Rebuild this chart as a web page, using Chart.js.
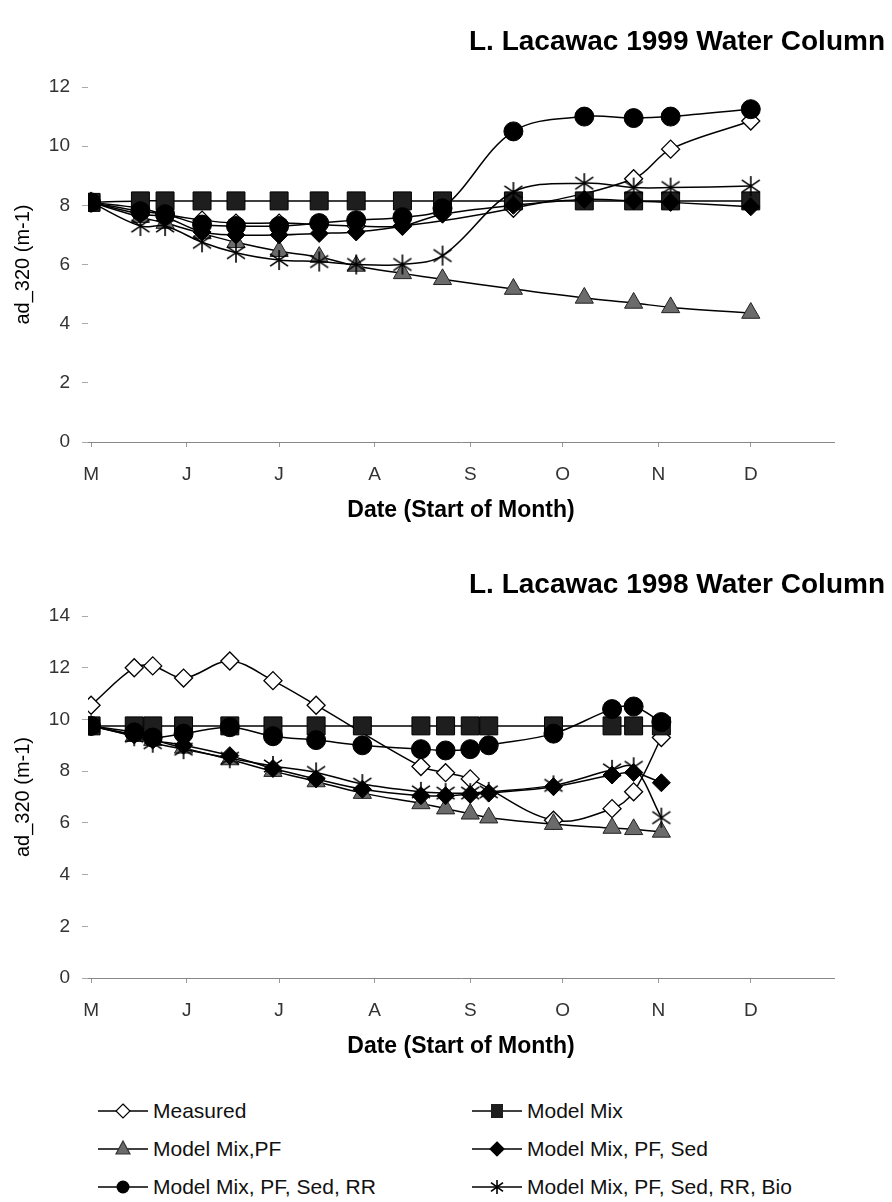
<!DOCTYPE html>
<html><head><meta charset="utf-8">
<script src="https://cdn.jsdelivr.net/npm/chart.js@4.4.1/dist/chart.umd.min.js"></script>
<style>
body{margin:0;background:#fff;width:892px;height:1202px;position:relative;overflow:hidden;font-family:"Liberation Sans",Arial,sans-serif;}
.wrap{position:absolute;left:0;width:892px;}
.item{position:absolute;display:flex;align-items:center;font-size:21px;color:#111;white-space:nowrap;height:30px;}
.item canvas{display:block;margin-right:5px;}
</style></head><body>
<div class="wrap" style="top:0;height:540px"><canvas id="c1" width="892" height="540"></canvas></div>
<div class="wrap" style="top:540px;height:535px"><canvas id="c2" width="892" height="535"></canvas></div>
<div id="legend"></div>
<script>
const FONT = '"Liberation Sans", Arial, sans-serif';
const seriesNames = ['Measured','Model Mix','Model Mix,PF','Model Mix, PF, Sed','Model Mix, PF, Sed, RR','Model Mix, PF, Sed, RR, Bio'];
const monthStarts = [0,31,61,92,123,153,184,214];
const monthLabels = ['M','J','J','A','S','O','N','D'];
const yTicks1999 = [0,2,4,6,8,10,12];
const yTicks1998 = [0,2,4,6,8,10,12,14];

// 1999 (days since 1 May)
const days1999     = [0, 16, 24, 36, 47, 61, 74, 86, 101, 114, 137, 160, 176, 188, 214];
const measured1999 = [8.1, 7.9, 7.7, 7.5, 7.4, 7.4, 7.35, 7.3, 7.3, null, 7.9, null, 8.9, 9.9, 10.85];
const mix1999      = [8.1, 8.15, 8.15, 8.15, 8.15, 8.15, 8.15, 8.15, 8.15, 8.15, 8.15, 8.15, 8.15, 8.15, 8.15];
const pf1999       = [8.1, 7.6, 7.4, 7.05, 6.75, 6.45, 6.25, 5.95, 5.7, 5.5, 5.17, 4.87, 4.7, 4.55, 4.36];
const sed1999      = [8.1, 7.7, 7.6, 7.1, 7.0, 7.0, 7.05, 7.1, 7.3, 7.7, 8.0, 8.2, 8.15, 8.1, 7.95];
const rr1999       = [8.1, 7.8, 7.7, 7.35, 7.3, 7.3, 7.4, 7.5, 7.6, 7.9, 10.5, 11.0, 10.95, 11.0, 11.25];
const bio1999      = [8.1, 7.3, 7.3, 6.75, 6.4, 6.15, 6.1, 6.0, 6.0, 6.3, 8.45, 8.75, 8.6, 8.6, 8.65];

// 1998 (days since 1 May)
const days1998     = [0, 14, 20, 30, 45, 59, 73, 88, 107, 115, 123, 129, 150, 169, 176, 185];
const measured1998 = [10.55, 12.0, 12.07, 11.6, 12.26, 11.5, 10.55, null, 8.18, 7.94, 7.7, null, 6.1, 6.55, 7.2, 9.3];
const mix1998      = [9.75, 9.75, 9.75, 9.75, 9.75, 9.75, 9.75, 9.75, 9.75, 9.75, 9.75, 9.75, 9.75, 9.75, 9.75, 9.75];
const pf1998       = [9.75, 9.35, 9.2, 8.9, 8.45, 8.0, 7.6, 7.15, 6.75, 6.55, 6.35, 6.2, 5.95, 5.8, 5.75, 5.65];
const sed1998      = [9.75, 9.4, 9.2, 9.0, 8.6, 8.1, 7.7, 7.3, 7.05, 7.05, 7.1, 7.15, 7.4, 7.85, 7.95, 7.55];
const rr1998       = [9.75, 9.5, 9.3, 9.45, 9.7, 9.35, 9.2, 9.0, 8.85, 8.8, 8.85, 9.0, 9.45, 10.4, 10.5, 9.9];
const bio1998      = [9.75, 9.35, 9.1, 8.85, 8.5, 8.2, 7.95, 7.5, 7.2, 7.15, 7.15, 7.2, 7.45, 8.05, 8.15, 6.2];

function makeStar(s){
  const c=document.createElement('canvas');c.width=s;c.height=s;
  const g=c.getContext('2d');g.strokeStyle='#000';g.lineWidth=1.6;g.lineCap='butt';
  const m=s/2;
  g.beginPath();
  g.moveTo(m,1);g.lineTo(m,s-1);
  g.moveTo(2,s*0.22);g.lineTo(s-2,s*0.78);
  g.moveTo(2,s*0.78);g.lineTo(s-2,s*0.22);
  g.stroke();
  return c;
}
const starImg = makeStar(22);

const styles = [
  {pointStyle:'rectRot', pointRadius:9, pointBackgroundColor:'#fff', pointBorderColor:'#000', pointBorderWidth:1.3},
  {pointStyle:'rect', pointRadius:12.7, pointBackgroundColor:'#1e1e1e', pointBorderColor:'#000', pointBorderWidth:1},
  {pointStyle:'triangle', pointRadius:10.5, pointBackgroundColor:'#6b6b6b', pointBorderColor:'#222', pointBorderWidth:1},
  {pointStyle:'rectRot', pointRadius:9, pointBackgroundColor:'#000', pointBorderColor:'#000', pointBorderWidth:1},
  {pointStyle:'circle', pointRadius:9.5, pointBackgroundColor:'#000', pointBorderColor:'#000', pointBorderWidth:1},
  {pointStyle:starImg, pointRadius:10, pointBackgroundColor:'#000', pointBorderColor:'#000', pointBorderWidth:1}
];

function makeDatasets(days, arrays){
  return arrays.map((vals,i)=>Object.assign({
    label: seriesNames[i],
    data: days.map((d,j)=>({x:d, y:vals[j]})),
    borderColor:'#000', borderWidth:1.5, tension:0.35, spanGaps:true, fill:false,
    order: 5-i
  }, styles[i]));
}

function buildOptions(yMax, yTicks, titleText, titlePad, padBottom){
  return {
    responsive:false, animation:false, devicePixelRatio:1,
    layout:{padding:{left:0,right:7,top:0,bottom:padBottom}},
    plugins:{
      legend:{display:false}, tooltip:{enabled:false},
      title:{display:true,text:titleText,align:'end',color:'#000',
        font:{family:FONT,size:28,weight:'bold',lineHeight:1.2},padding:titlePad}
    },
    scales:{
      x:{type:'linear',min:-1,max:241,
        afterBuildTicks:s=>{s.ticks=monthStarts.map(v=>({value:v}));},
        afterFit:s=>{s.height=90;},
        ticks:{autoSkip:false,maxRotation:0,padding:16,color:'#333',font:{family:FONT,size:19},
          callback:v=>{const k=monthStarts.indexOf(v);return k>=0?monthLabels[k]:'';}},
        grid:{drawOnChartArea:false,drawTicks:true,tickLength:5,color:'#999'},
        border:{display:true,color:'#888',width:1},
        title:{display:true,text:'Date (Start of Month)',color:'#000',
          font:{family:FONT,size:23,weight:'bold',lineHeight:1.2},padding:{top:0,bottom:8}}
      },
      y:{min:0,max:yMax,
        afterBuildTicks:s=>{s.ticks=yTicks.map(v=>({value:v}));},
        afterFit:s=>{s.width=88;},
        ticks:{padding:12,color:'#333',font:{family:FONT,size:19}},
        grid:{drawOnChartArea:false,drawTicks:true,tickLength:6,color:'#aaa'},
        border:{display:false},
        title:{display:true,text:'ad_320 (m-1)',color:'#000',
          font:{family:FONT,size:20,lineHeight:1.2},padding:{top:11,bottom:0}}
      },
      yR:{position:'right',display:true,afterFit:s=>{s.width=51;},
        ticks:{display:false},grid:{display:false},border:{display:false}}
    }
  };
}

new Chart(document.getElementById('c1'),{
  type:'line',
  data:{datasets:makeDatasets(days1999,[measured1999,mix1999,pf1999,sed1999,rr1999,bio1999])},
  options:buildOptions(12,yTicks1999,'L. Lacawac 1999 Water Column',{top:25.2,bottom:28.2},8)
});
new Chart(document.getElementById('c2'),{
  type:'line',
  data:{datasets:makeDatasets(days1998,[measured1998,mix1998,pf1998,sed1998,rr1998,bio1998])},
  options:buildOptions(14,yTicks1998,'L. Lacawac 1998 Water Column',{top:28.2,bottom:14.2},7)
});

// legend
function drawMarker(g,i,x,y){
  g.lineWidth=1.2;
  if(i===0||i===3){ const r=7; g.beginPath();g.moveTo(x,y-r);g.lineTo(x+r,y);g.lineTo(x,y+r);g.lineTo(x-r,y);g.closePath();
    g.fillStyle=i===0?'#fff':'#000';g.fill();g.strokeStyle='#000';g.stroke(); }
  else if(i===1){ g.fillStyle='#1e1e1e';g.fillRect(x-6,y-7,12,14); }
  else if(i===2){ g.beginPath();g.moveTo(x,y-8);g.lineTo(x+7,y+5);g.lineTo(x-7,y+5);g.closePath();g.fillStyle='#6b6b6b';g.fill();g.strokeStyle='#333';g.stroke(); }
  else if(i===4){ g.beginPath();g.arc(x,y,6.5,0,Math.PI*2);g.fillStyle='#000';g.fill(); }
  else { g.drawImage(makeStar(16),x-8,y-8); }
}
const legendPos = [[98,1111],[472,1111],[98,1149],[472,1149],[98,1187],[472,1187]];
const leg=document.getElementById('legend');
seriesNames.forEach((name,i)=>{
  const d=document.createElement('div');d.className='item';
  d.style.left=legendPos[i][0]+'px';d.style.top=(legendPos[i][1]-15)+'px';
  const c=document.createElement('canvas');c.width=50;c.height=26;
  const g=c.getContext('2d');g.strokeStyle='#000';g.lineWidth=1.5;
  g.beginPath();g.moveTo(0,13);g.lineTo(50,13);g.stroke();
  drawMarker(g,i,25,13);
  d.appendChild(c);
  const s=document.createElement('span');s.textContent=name;d.appendChild(s);
  leg.appendChild(d);
});
</script>
</body></html>
